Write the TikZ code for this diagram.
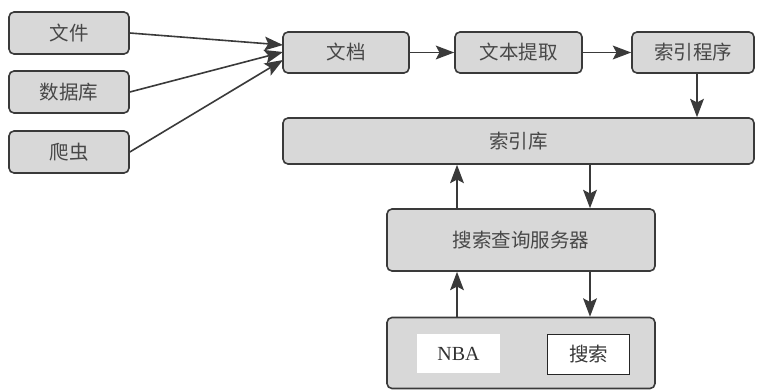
\documentclass[tikz,border=0pt]{standalone}
\usepackage{fontspec}
\setmainfont{Liberation Serif}
\newfontfamily\cjk{Noto Sans CJK SC}
\usetikzlibrary{arrows.meta}
\definecolor{boxfill}{RGB}{216,216,216}
\definecolor{edge}{RGB}{58,58,58}
\tikzset{
  box/.style={draw=edge, fill=boxfill, line width=1.6pt, rounded corners=5pt, inner sep=0pt, font=\cjk\fontsize{19.5}{21}\selectfont, text=black!72},
  plainbox/.style={fill=white, inner sep=0pt, font=\fontsize{20}{22}\selectfont, text=black!80},
  btnbox/.style={draw=black!85, fill=white, line width=1.7pt, inner sep=0pt, font=\cjk\fontsize{19.5}{21}\selectfont, text=black!78},
  conn/.style={draw=edge, line width=1.6pt, -{Stealth[scale=1.8, inset=2pt]}}
}
\begin{document}
\begin{tikzpicture}
\useasboundingbox[fill=white] (0pt,0pt) rectangle (757pt,-391pt);
\begin{scope}[x=1pt,y=-1pt]
\node[box, minimum width=120pt, minimum height=42pt] (wj) at (69,33) {文件};
\node[box, minimum width=120pt, minimum height=42pt] (sjk) at (69,92) {数据库};
\node[box, minimum width=120pt, minimum height=42pt] (pc) at (69,152) {爬虫};
\node[box, minimum width=126pt, minimum height=41pt] (wd) at (346,52.5) {文档};
\node[box, minimum width=127pt, minimum height=41pt] (tq) at (518.5,52.5) {文本提取};
\node[box, minimum width=122pt, minimum height=41pt] (sy) at (693,52.5) {索引程序};
\node[box, minimum width=471pt, minimum height=46pt] (syk) at (518.5,141) {索引库};
\node[box, minimum width=268pt, minimum height=62pt] (fwq) at (521,240) {搜索查询服务器};
\node[box, minimum width=268pt, minimum height=71pt] (ui) at (521,353) {};
\node[plainbox, minimum width=83pt, minimum height=39pt] (nba) at (458.5,353.5) {NBA};
\node[btnbox, minimum width=82pt, minimum height=40pt] (ss) at (588.5,354.5) {搜索};
\coordinate (t1) at (283,45);
\coordinate (t2) at (283,52);
\coordinate (t3) at (283,60);
\coordinate (a1) at (697,0);
\coordinate (a2) at (457,0);
\coordinate (a3) at (590,0);
\end{scope}
\draw[conn] (wj.east) -- (t1);
\draw[conn] (sjk.east) -- (t2);
\draw[conn] (pc.east) -- (t3);
\draw[conn] (wd) -- (tq);
\draw[conn] (tq) -- (sy);
\draw[conn] (sy.south -| a1) -- (syk.north -| a1);
\draw[conn] (fwq.north -| a2) -- (syk.south -| a2);
\draw[conn] (syk.south -| a3) -- (fwq.north -| a3);
\draw[conn] (ui.north -| a2) -- (fwq.south -| a2);
\draw[conn] (fwq.south -| a3) -- (ui.north -| a3);
\end{tikzpicture}
\end{document}
